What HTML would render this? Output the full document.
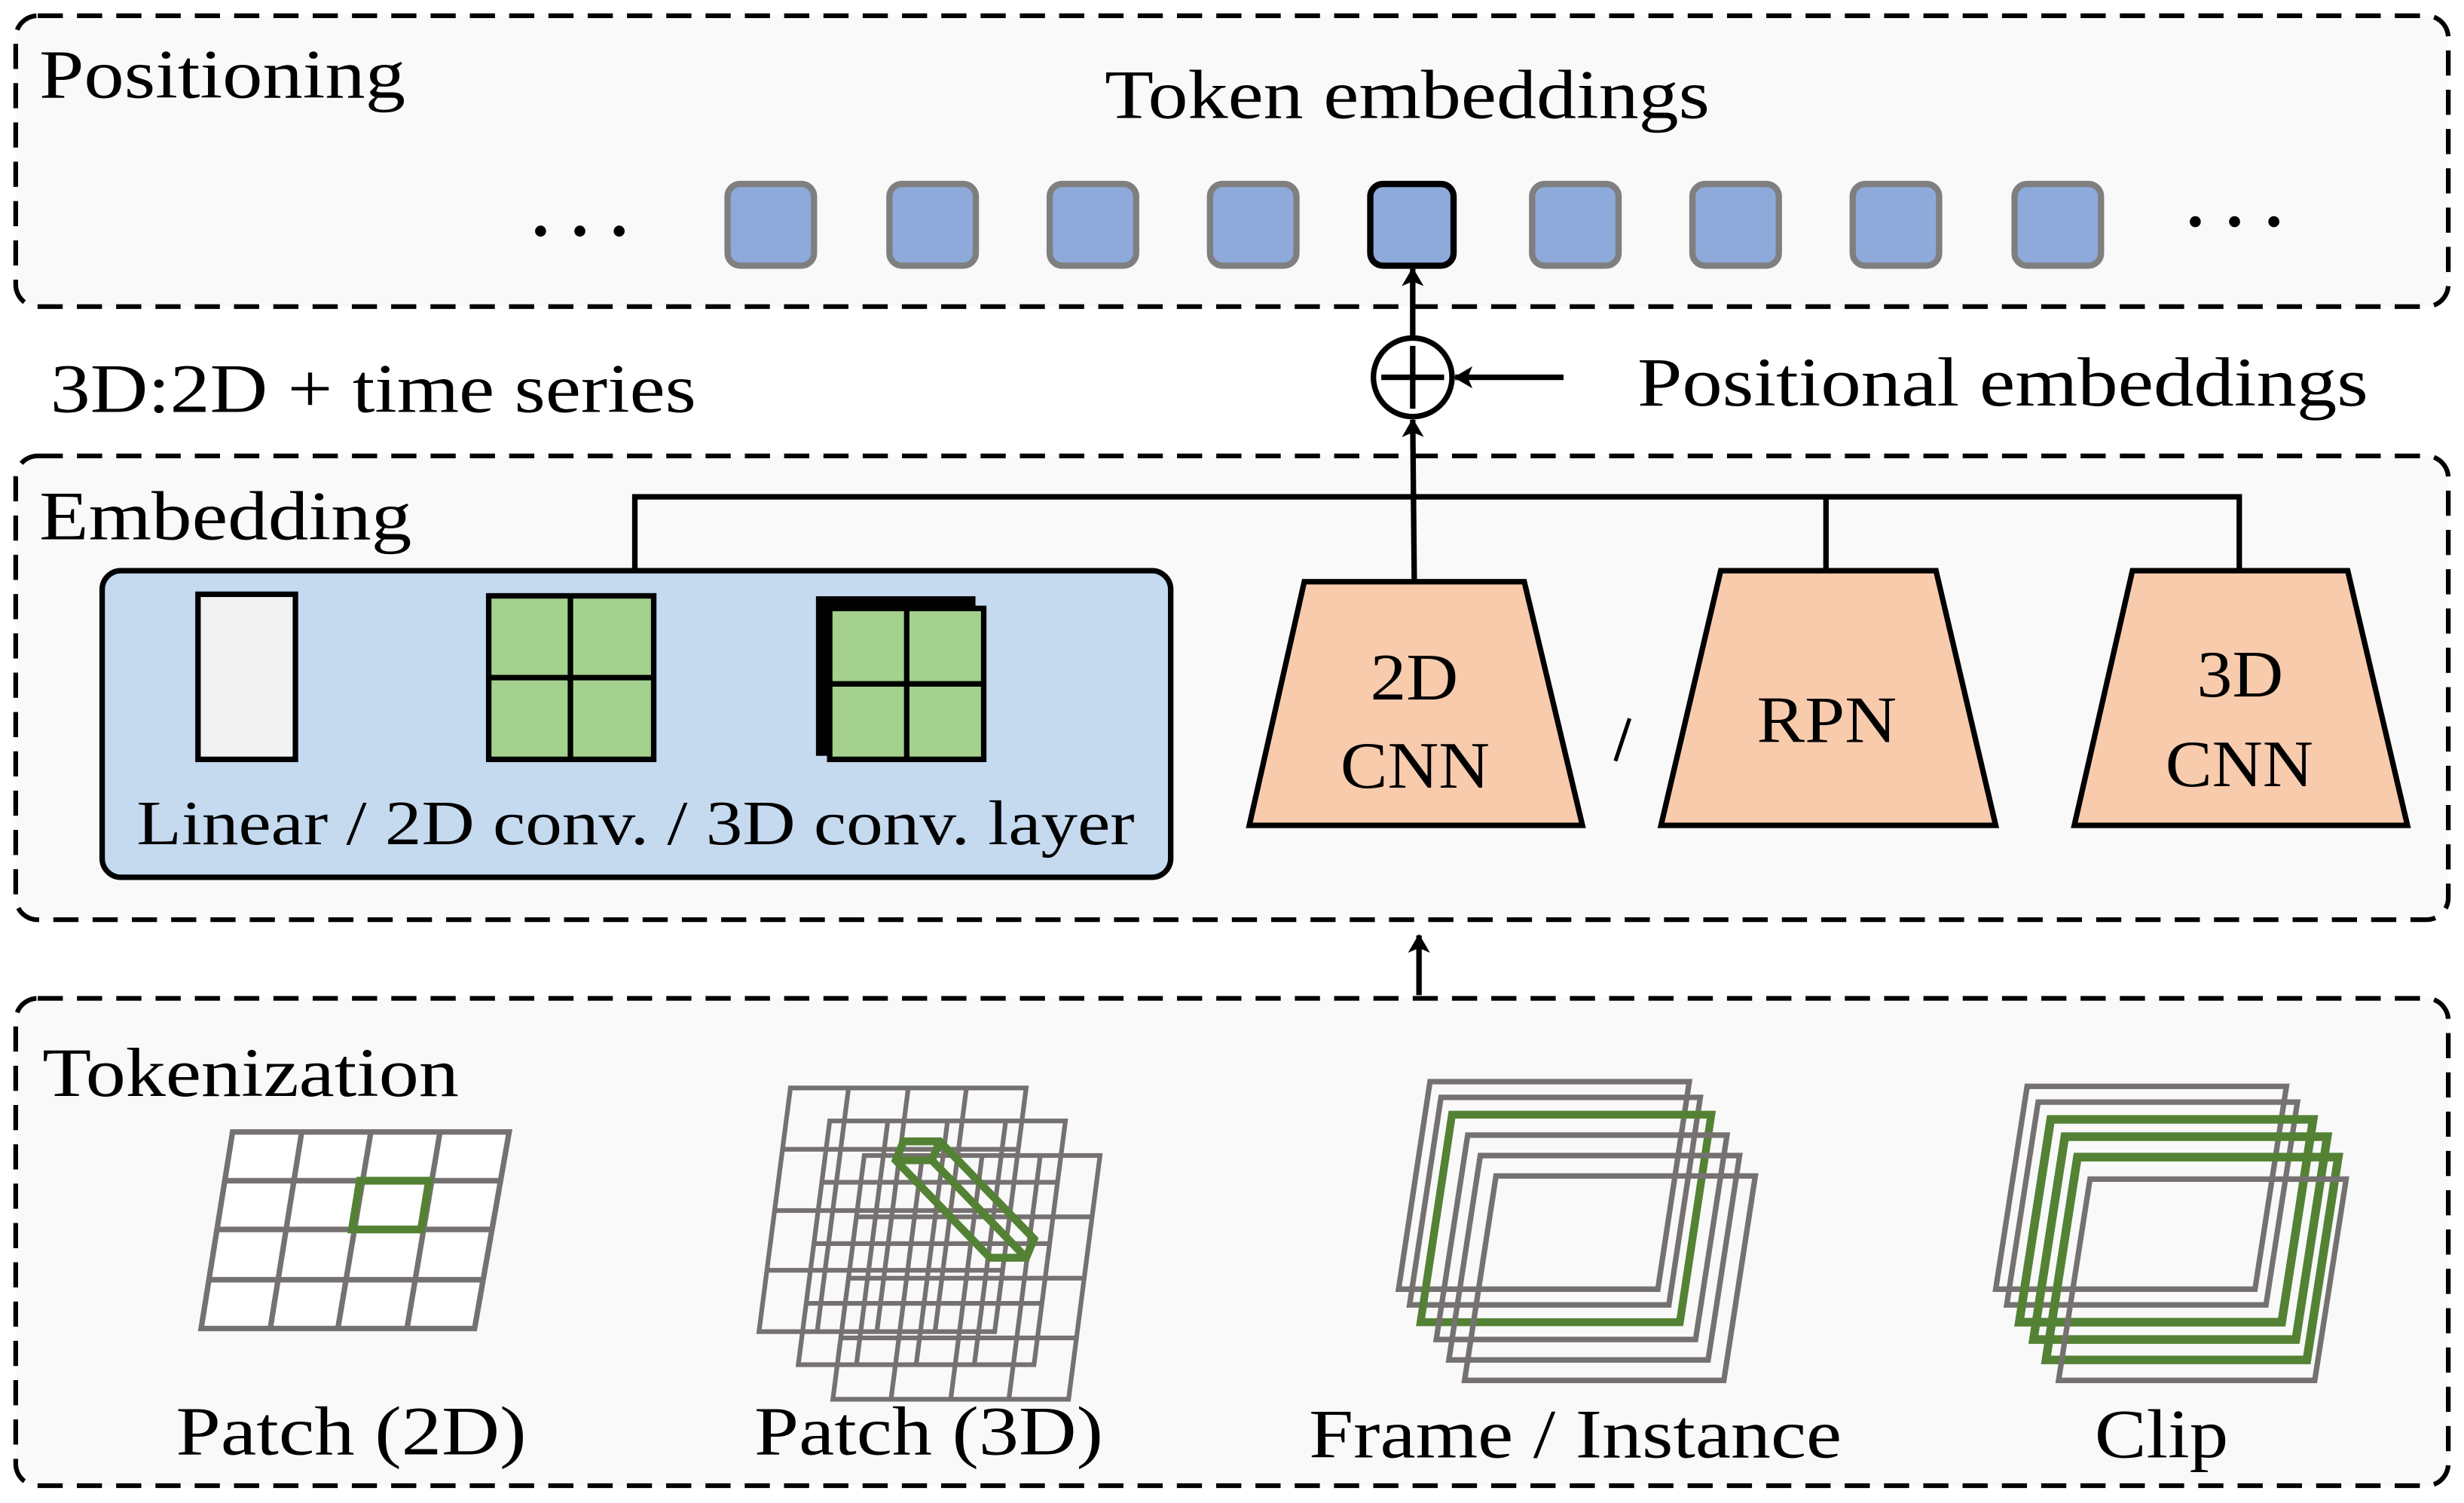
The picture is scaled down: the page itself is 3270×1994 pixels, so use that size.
<!DOCTYPE html>
<html><head><meta charset="utf-8"><style>
html,body{margin:0;padding:0;background:#fff;}
svg{display:block;}
text{font-family:"Liberation Serif",serif;fill:#000;}
</style></head><body>
<svg width="3270" height="1994" viewBox="0 0 1568 956" preserveAspectRatio="none" xmlns="http://www.w3.org/2000/svg">
<defs>
<marker id="ah" markerWidth="12" markerHeight="14" refX="11" refY="7" orient="auto" markerUnits="userSpaceOnUse">
<path d="M0,0 L12,7 L0,14 L3,7 Z" fill="#000"/>
</marker>
</defs>
<rect width="1568" height="956" fill="#fff"/>
<g fill="#f9f9f9" stroke="#000" stroke-width="3" stroke-dasharray="16,9">
<rect x="10" y="10" width="1548" height="185" rx="14"/>
<rect x="10" y="290" width="1548" height="295" rx="14"/>
<rect x="10" y="635" width="1548" height="310" rx="14"/>
</g>
<text x="25" y="62" font-size="44" textLength="233" lengthAdjust="spacingAndGlyphs">Positioning</text>
<text x="703" y="75" font-size="44" textLength="385" lengthAdjust="spacingAndGlyphs">Token embeddings</text>
<g fill="#000"><circle cx="344" cy="147" r="3.5"/><circle cx="369" cy="147" r="3.5"/><circle cx="394" cy="147" r="3.5"/>
<circle cx="1397" cy="141" r="3.5"/><circle cx="1422" cy="141" r="3.5"/><circle cx="1447" cy="141" r="3.5"/></g>
<g fill="#8eaadb" stroke="#7f7f7f" stroke-width="4">
<rect x="463" y="117" width="55" height="52" rx="8"/>
<rect x="566" y="117" width="55" height="52" rx="8"/>
<rect x="668" y="117" width="55" height="52" rx="8"/>
<rect x="770" y="117" width="55" height="52" rx="8"/>
<rect x="872" y="117" width="53" height="52" rx="8" stroke="#000"/>
<rect x="975" y="117" width="55" height="52" rx="8"/>
<rect x="1077" y="117" width="55" height="52" rx="8"/>
<rect x="1179" y="117" width="55" height="52" rx="8"/>
<rect x="1282" y="117" width="55" height="52" rx="8"/>
</g>
<g stroke="#000" stroke-width="3.5" fill="none">
<line x1="899" y1="214" x2="899" y2="171" marker-end="url(#ah)"/>
<circle cx="899" cy="240" r="25" fill="#fff"/>
<line x1="899" y1="220" x2="899" y2="260"/>
<line x1="879" y1="240" x2="919" y2="240"/>
<line x1="995" y1="240" x2="926" y2="240" marker-end="url(#ah)"/>
<line x1="900" y1="370" x2="899" y2="267" marker-end="url(#ah)"/>
<polyline points="404,363 404,316 1425,316 1425,363"/>
<line x1="1162" y1="316" x2="1162" y2="363"/>
<line x1="903" y1="633" x2="903" y2="595" marker-end="url(#ah)"/>
</g>
<text x="1042" y="258" font-size="44" textLength="465" lengthAdjust="spacingAndGlyphs">Positional embeddings</text>
<text x="32" y="262" font-size="44" textLength="411" lengthAdjust="spacingAndGlyphs">3D:2D + time series</text>
<text x="25" y="343" font-size="44" textLength="237" lengthAdjust="spacingAndGlyphs">Embedding</text>
<rect x="65" y="363" width="680" height="195" rx="12" fill="#c5d9ef" stroke="#000" stroke-width="3.5"/>
<rect x="126" y="378" width="62" height="105" fill="#f2f2f2" stroke="#000" stroke-width="3.5"/>
<g stroke="#000" stroke-width="3.5">
<rect x="311" y="379" width="105" height="104" fill="#a5d18e"/>
<line x1="363" y1="379" x2="363" y2="483"/><line x1="311" y1="431" x2="416" y2="431"/>
<rect x="521" y="381" width="98" height="98" fill="#000"/>
<rect x="528" y="387" width="98" height="96" fill="#a5d18e"/>
<line x1="577" y1="387" x2="577" y2="483"/><line x1="528" y1="435" x2="626" y2="435"/>
</g>
<text x="87" y="537" font-size="40" textLength="635" lengthAdjust="spacingAndGlyphs">Linear / 2D conv. / 3D conv. layer</text>
<g fill="#f8cbad" stroke="#000" stroke-width="3.5">
<polygon points="830,370 970,370 1007,525 795,525"/>
<polygon points="1095,363 1232,363 1270,525 1057,525"/>
<polygon points="1357,363 1494,363 1532,525 1320,525"/>
</g>
<g font-size="42">
<text x="872" y="445" textLength="56" lengthAdjust="spacingAndGlyphs">2D</text>
<text x="853" y="501" textLength="95" lengthAdjust="spacingAndGlyphs">CNN</text>
<text x="1118" y="472" textLength="89" lengthAdjust="spacingAndGlyphs">RPN</text>
<text x="1398" y="443" textLength="55" lengthAdjust="spacingAndGlyphs">3D</text>
<text x="1378" y="500" textLength="94" lengthAdjust="spacingAndGlyphs">CNN</text>
</g>
<line x1="1037" y1="457" x2="1028" y2="484" stroke="#000" stroke-width="2.5"/>
<text x="27" y="697" font-size="44" textLength="265" lengthAdjust="spacingAndGlyphs">Tokenization</text>
<g fill="none" stroke="#767171" stroke-width="3.5">
<path d="M148,720 L324,720 L302,845 L128,845 Z" fill="#fff"/>
<line x1="143" y1="751" x2="319" y2="751"/><line x1="138" y1="782" x2="313" y2="782"/><line x1="133" y1="814" x2="308" y2="814"/>
<line x1="192" y1="720" x2="172" y2="845"/><line x1="236" y1="720" x2="215" y2="845"/><line x1="280" y1="720" x2="259" y2="845"/>
</g>
<path d="M229,751 L273,751 L268,782 L224,782 Z" fill="none" stroke="#548235" stroke-width="5"/>
<g fill="none" stroke="#767171" stroke-width="3">
<g transform="translate(483,692)"><path d="M20,0 L170,0 L150,155 L0,155 Z"/><line x1="15" y1="39" x2="165" y2="39"/><line x1="10" y1="78" x2="160" y2="78"/><line x1="5" y1="116" x2="155" y2="116"/><line x1="57" y1="0" x2="37" y2="155"/><line x1="95" y1="0" x2="75" y2="155"/><line x1="132" y1="0" x2="112" y2="155"/></g>
<g transform="translate(508,713)"><path d="M20,0 L170,0 L150,155 L0,155 Z"/><line x1="15" y1="39" x2="165" y2="39"/><line x1="10" y1="78" x2="160" y2="78"/><line x1="5" y1="116" x2="155" y2="116"/><line x1="57" y1="0" x2="37" y2="155"/><line x1="95" y1="0" x2="75" y2="155"/><line x1="132" y1="0" x2="112" y2="155"/></g>
<g transform="translate(530,735)"><path d="M20,0 L170,0 L150,155 L0,155 Z"/><line x1="15" y1="39" x2="165" y2="39"/><line x1="10" y1="78" x2="160" y2="78"/><line x1="5" y1="116" x2="155" y2="116"/><line x1="57" y1="0" x2="37" y2="155"/><line x1="95" y1="0" x2="75" y2="155"/><line x1="132" y1="0" x2="112" y2="155"/></g>
</g>
<g fill="none" stroke="#548235" stroke-width="5">
<path d="M575,726 L598,726 L658,788 L653,800 L630,800 L570,738 Z"/>
<line x1="598" y1="726" x2="593" y2="738"/><line x1="593" y1="738" x2="570" y2="738"/><line x1="593" y1="738" x2="653" y2="800"/>
</g>
<g fill="none" stroke-width="3.5">
<g stroke="#767171"><path d="M910,688 L1075,688 L1055,820 L890,820 Z"/><path d="M917,698 L1082,698 L1062,830 L897,830 Z"/></g>
<path d="M924,709 L1089,709 L1069,841 L904,841 Z" stroke="#548235" stroke-width="5"/>
<g stroke="#767171"><path d="M934,722 L1099,722 L1079,852 L914,852 Z"/><path d="M942,735 L1107,735 L1087,865 L922,865 Z"/><path d="M952,748 L1117,748 L1097,878 L932,878 Z"/></g>
</g>
<g fill="none" stroke-width="3.5">
<g stroke="#767171"><path d="M1290,691 L1455,691 L1435,820 L1270,820 Z"/><path d="M1297,701 L1462,701 L1442,830 L1277,830 Z"/></g>
<g stroke="#548235" stroke-width="5.5"><path d="M1305,712 L1472,712 L1452,841 L1285,841 Z"/><path d="M1314,723 L1481,723 L1461,852 L1294,852 Z"/><path d="M1322,736 L1488,736 L1468,865 L1302,865 Z"/></g>
<path d="M1330,750 L1493,750 L1473,878 L1310,878 Z" stroke="#767171"/>
</g>
<g font-size="44">
<text x="112" y="925" textLength="223" lengthAdjust="spacingAndGlyphs">Patch (2D)</text>
<text x="480" y="925" textLength="222" lengthAdjust="spacingAndGlyphs">Patch (3D)</text>
<text x="833" y="927" textLength="339" lengthAdjust="spacingAndGlyphs">Frame / Instance</text>
<text x="1333" y="927" textLength="85" lengthAdjust="spacingAndGlyphs">Clip</text>
</g>
</svg>
</body></html>
